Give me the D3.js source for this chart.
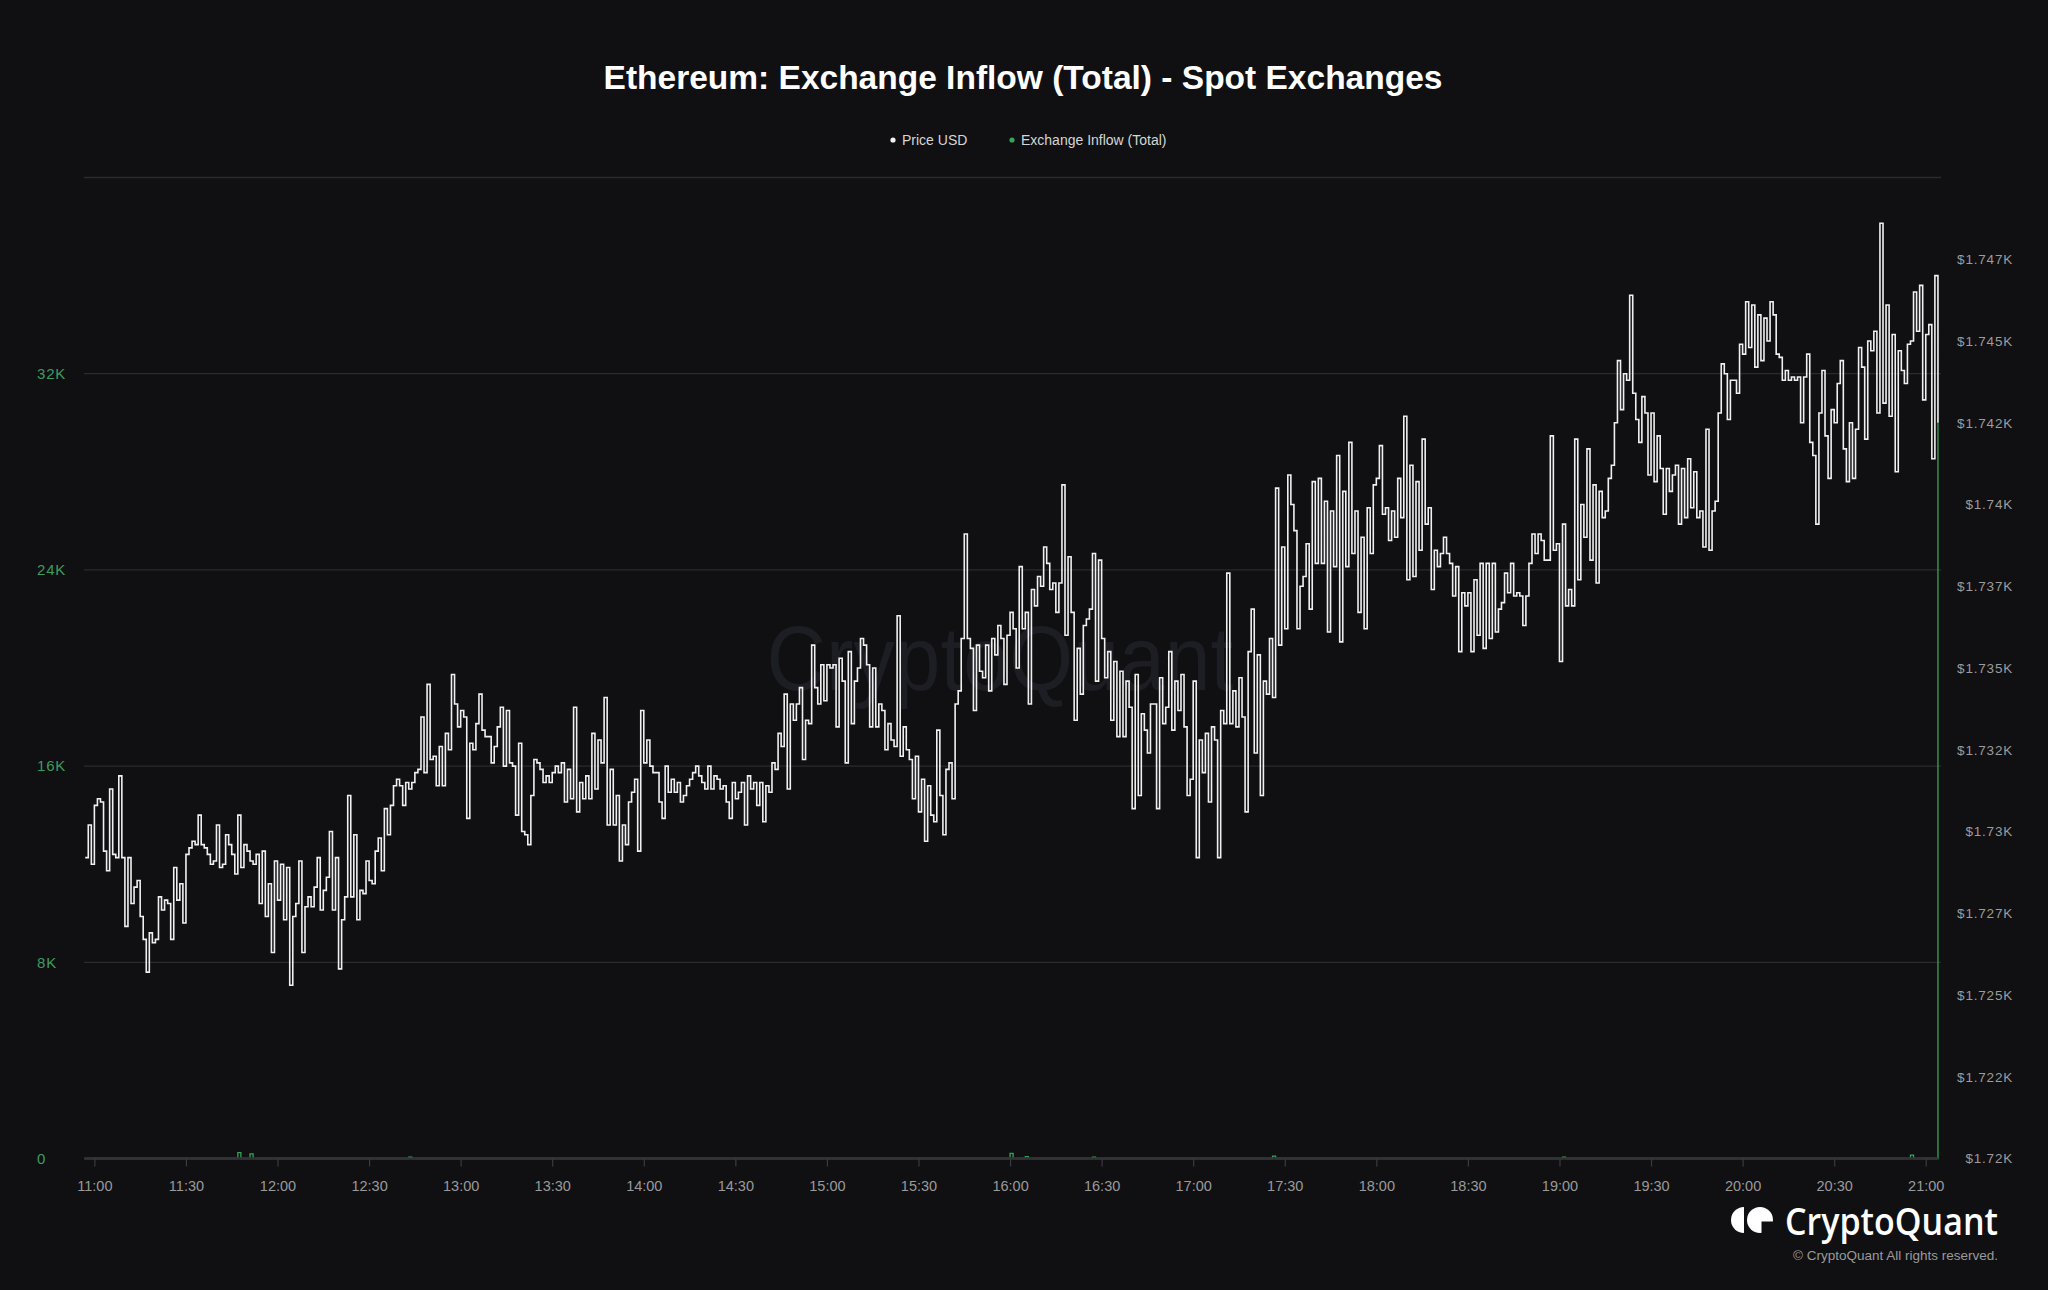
<!DOCTYPE html>
<html><head><meta charset="utf-8">
<script src="https://cdn.jsdelivr.net/npm/d3@7"></script>
<style>
html,body{margin:0;padding:0;background:#101013;}
svg{display:block}
</style></head>
<body>
<svg id="chart" width="2048" height="1290"></svg>
<script>
const chartTitle = "Ethereum: Exchange Inflow (Total) - Spot Exchanges";
const seriesNames = ["Price USD", "Exchange Inflow (Total)"];
const priceStart = "10:57"; // one value per minute
const priceUSD = [
1729.2,1730.2,1729.0,1730.8,1731.0,1730.9,1729.4,1728.8,1731.3,1729.3,
1729.2,1731.7,1729.2,1727.1,1729.2,1727.8,1728.3,1728.5,1727.4,
1726.7,1725.7,1726.9,1726.6,1726.7,1728.0,1727.6,1727.9,1727.8,
1726.7,1728.9,1727.9,1728.4,1727.2,1729.3,1729.5,1729.7,1729.6,1730.5,
1729.6,1729.5,1729.3,1729.0,1729.1,1730.2,1728.9,1729.0,1729.9,1729.6,
1729.3,1728.7,1730.5,1728.9,1729.6,1729.4,1729.1,1729.0,1729.3,1727.8,
1729.4,1727.4,1728.4,1726.3,1729.1,1727.9,1729.0,1727.3,1728.9,1725.3,
1727.4,1727.8,1729.1,1726.3,1727.7,1728.0,1727.7,1728.3,1729.2,1727.6,
1728.2,1728.6,1730.0,1727.6,1729.2,1725.8,1727.3,1728.0,1731.1,1728.0,
1729.9,1727.3,1728.2,1728.1,1729.1,1728.5,1728.4,1729.4,1729.8,1728.8,
1730.7,1729.9,1730.8,1731.4,1731.6,1731.4,1730.8,1731.5,1731.3,1731.5,
1731.8,1731.9,1733.5,1731.8,1734.5,1732.2,1732.3,1731.4,1732.6,1731.4,
1733.0,1732.5,1734.8,1733.9,1733.2,1733.7,1733.5,1730.4,1732.7,1732.5,
1733.3,1734.2,1733.1,1732.9,1732.9,1732.1,1732.6,1733.2,1733.8,1732.0,
1733.7,1732.1,1732.0,1730.5,1732.7,1730.0,1729.9,1729.6,1731.1,1732.2,
1732.1,1731.9,1731.5,1731.7,1731.5,1731.8,1732.0,1731.8,1732.1,1730.9,1731.9,
1731.0,1733.8,1730.6,1731.5,1731.0,1731.7,1731.0,1733.0,1731.3,1732.8,
1732.1,1734.1,1730.2,1731.9,1730.2,1731.1,1729.1,1730.2,1729.6,1730.9,
1731.2,1731.6,1729.4,1733.7,1732.1,1732.8,1732.0,1731.8,1731.8,1730.9,
1730.4,1732.0,1731.2,1731.6,1731.2,1731.5,1730.9,1731.1,1731.4,1731.6,
1731.8,1732.0,1731.7,1731.5,1731.3,1732.0,1731.3,1731.7,1731.6,1731.3,1731.4,
1730.9,1730.4,1731.5,1731.0,1731.2,1731.5,1730.2,1731.7,1731.3,1731.5,
1730.8,1731.5,1730.3,1731.4,1731.2,1732.1,1731.9,1733.0,1732.6,
1734.2,1731.3,1733.9,1733.4,1733.9,1734.4,1732.2,1733.4,1733.3,1735.7,1734.4,
1733.9,1735.1,1734.0,1735.1,1735.0,1735.1,1733.2,1735.3,1734.6,1732.1,
1735.5,1733.3,1734.6,1735.0,1735.9,1735.7,1735.1,1733.2,1735.0,1733.2,
1733.9,1733.7,1732.5,1733.3,1732.8,1732.6,1736.6,1732.3,1733.2,1732.5,
1732.2,1731.0,1732.3,1730.6,1731.6,1729.7,1731.4,1730.5,1730.3,1733.1,
1731.1,1729.9,1731.9,1732.1,1731.0,1733.9,1734.3,1735.9,1739.1,1735.9,
1735.6,1733.7,1735.7,1734.9,1734.7,1735.7,1734.3,1735.9,1735.4,1736.3,
1735.9,1734.5,1736.0,1736.7,1736.2,1735.0,1738.1,1736.2,1736.7,1733.9,
1737.4,1736.9,1737.8,1737.5,1738.7,1738.2,1737.4,1737.6,1736.7,1737.6,
1740.6,1736.0,1738.4,1736.7,1733.4,1735.6,1734.2,1736.3,1736.5,1736.8,
1738.5,1734.6,1738.3,1735.9,1734.7,1735.5,1733.4,1735.2,1732.9,1734.9,
1732.9,1734.6,1733.8,1730.7,1734.8,1731.1,1733.6,1733.1,1732.4,1733.9,
1733.9,1730.7,1734.7,1733.3,1733.8,1735.5,1733.1,1734.6,1733.7,1734.8,
1733.2,1731.1,1731.6,1734.6,1729.2,1732.8,1731.8,1733.0,1730.9,1733.2,
1732.8,1729.2,1733.7,1733.3,1737.9,1733.3,1734.3,1733.2,1734.7,1733.5,
1730.6,1735.5,1736.8,1732.4,1735.4,1731.1,1734.6,1734.2,1735.9,
1734.1,
1740.5,1735.7,1738.7,1736.2,1740.9,1740.0,1739.2,1736.2,1737.5,1737.8,
1738.8,1736.8,1740.7,1738.2,1740.8,1738.2,1740.1,1736.1,1739.8,1738.1,
1741.5,1735.8,1740.4,1738.1,1741.9,1738.5,1739.8,1736.7,1739.0,1736.2,
1739.9,1738.5,1740.6,1740.8,1741.8,1739.7,1739.9,1738.9,1739.8,1739.0,
1740.8,1739.6,1742.7,1737.7,1741.2,1737.8,1740.7,1738.6,1742.0,1739.4,
1739.9,1737.4,1738.6,1738.1,1738.5,1739.0,1738.5,1738.2,1737.2,1738.1,
1735.5,1737.3,1736.9,1737.3,1735.5,1737.7,1736.0,1738.2,1735.6,1738.2,
1735.9,1738.2,1736.1,1736.8,1737.0,1737.9,1737.3,1738.2,1737.2,1737.3,
1737.2,1736.3,1737.2,1738.2,1739.1,1738.5,1739.1,1738.9,1738.3,1738.3,
1742.1,1738.6,1738.8,1735.2,1739.4,1736.9,1737.4,1736.9,1742.0,1737.7,
1740.0,1739.0,1741.7,1738.3,1740.6,1737.6,1740.4,1739.6,1739.8,1740.8,
1741.2,1742.5,1744.4,1742.9,1744.0,1743.8,1746.4,1743.4,1742.6,1741.9,
1743.3,1742.8,1740.9,1742.8,1740.7,1742.1,1741.1,1739.7,1741.1,1740.4,
1740.9,1741.2,1739.4,1741.1,1739.6,1741.4,1739.9,1741.0,1739.6,1739.8,
1738.7,1742.3,1738.6,1739.8,1740.1,1742.8,
1744.3,1744.0,1742.6,1743.8,1743.8,1743.4,1744.9,1744.6,1746.2,1744.8,
1746.1,1744.2,1745.8,1744.4,1745.7,1745.0,1746.2,1745.8,1744.6,
1744.5,1743.8,1744.1,1743.8,1743.9,1743.8,1743.9,1742.5,1743.9,1744.6,
1741.9,1741.5,1739.4,1742.8,1744.1,1742.1,1740.8,1742.9,1742.5,1743.7,
1744.4,1741.7,1740.7,1742.5,1740.8,1742.3,1744.8,1744.2,1742.0,1745.0,
1744.7,1745.3,1742.8,1748.6,1743.1,1746.1,1742.7,1745.2,1741.0,1744.7,
1744.1,1743.7,1744.9,1745.0,1746.5,1745.3,1746.7,1743.2,1745.2,1745.5,
1741.4,1747.0,1742.5
];
const inflowTimes  = ["10:57","11:47","11:48","11:51","11:52","12:43","12:44","16:00","16:01","16:05","16:06","16:27","16:28","17:26","17:27","19:01","19:02","20:55","20:56","21:03","21:04"];
const inflowValues = [0,      240,    0,      190,    0,      50,     0,      210,    0,      80,     0,      60,     0,      100,    0,      50,     0,      140,    0,      0,      30000];
const xTickLabels = ["11:00","11:30","12:00","12:30","13:00","13:30","14:00","14:30","15:00","15:30","16:00","16:30","17:00","17:30","18:00","18:30","19:00","19:30","20:00","20:30","21:00"];
const leftTickValues = [0, 8000, 16000, 24000, 32000];
const leftTickLabels = ["0", "8K", "16K", "24K", "32K"];
const gridValues = [8000, 16000, 24000, 32000, 40000];
const rightTickValues = [1720, 1722.5, 1725, 1727.5, 1730, 1732.5, 1735, 1737.5, 1740, 1742.5, 1745, 1747.5];
const rightTickLabels = ["$1.72K","$1.722K","$1.725K","$1.727K","$1.73K","$1.732K","$1.735K","$1.737K","$1.74K","$1.742K","$1.745K","$1.747K"];

const BG = "#101013", GREEN = "#34a457", GREEN_TXT = "#3f9a60";
const FONT = "'Liberation Sans', Arial, Helvetica, sans-serif";
const svg = d3.select("#chart");
const W = 2048, H = 1290;
const plot = {left: 84, right: 1941, top: 177.5, bottom: 1158.5};

svg.append("rect").attr("width", W).attr("height", H).attr("fill", BG);

const parse = d3.timeParse("%H:%M");
const t0 = parse(priceStart);
const priceData = priceUSD.map((v, i) => ({t: d3.timeMinute.offset(t0, i), v}));
const inflowData = inflowTimes.map((s, i) => ({t: parse(s), v: inflowValues[i]}));
const tLast = priceData[priceData.length - 1].t;

const x = d3.scaleTime()
  .domain([d3.timeSecond.offset(t0, -24), d3.timeMinute.offset(tLast, 1)])
  .range([plot.left, plot.right]);
const yIn = d3.scaleLinear().domain([0, 40000]).range([plot.bottom, plot.top]);
const yPx = d3.scaleLinear().domain([1720, 1750]).range([plot.bottom, plot.top]);

// watermark
svg.append("text").attr("x", 1000).attr("y", 690).attr("text-anchor", "middle")
  .attr("font-family", FONT).attr("font-size", 90)
  .attr("textLength", 467).attr("lengthAdjust", "spacingAndGlyphs")
  .attr("fill", "#1d1d24").text("CryptoQuant");

// title
svg.append("text").attr("x", 1023).attr("y", 89).attr("text-anchor", "middle")
  .attr("font-family", FONT).attr("font-weight", 700).attr("font-size", 33.5)
  .attr("fill", "#ffffff").text(chartTitle);

// legend
const legend = svg.append("g").attr("font-family", FONT).attr("font-size", 14).attr("fill", "#d6d6d6");
[[893, "#f2f2f2", 0, 902], [1012, GREEN, 1, 1021]].forEach(([cx, col, i, tx]) => {
  legend.append("circle").attr("cx", cx).attr("cy", 140).attr("r", 2.6).attr("fill", col);
  legend.append("text").attr("x", tx).attr("y", 145).text(seriesNames[i]);
});

// grid
svg.append("g").selectAll("line").data(gridValues).join("line")
  .attr("x1", plot.left).attr("x2", plot.right)
  .attr("y1", d => yIn(d)).attr("y2", d => yIn(d))
  .attr("stroke", "#2a2a2f").attr("stroke-width", 1.3);

// left axis (inflow)
const gl = svg.append("g").attr("transform", "translate(37,0)")
  .call(d3.axisRight(yIn).tickValues(leftTickValues).tickSize(0).tickPadding(0)
    .tickFormat((d, i) => leftTickLabels[i]));
gl.select(".domain").remove();
gl.selectAll("text").attr("font-family", FONT).attr("font-size", 15).attr("letter-spacing", 0.8)
  .attr("fill", GREEN_TXT).attr("text-anchor", "start");

// right axis (price)
const gr = svg.append("g").attr("transform", "translate(2013,0)")
  .call(d3.axisLeft(yPx).tickValues(rightTickValues).tickSize(0).tickPadding(0)
    .tickFormat((d, i) => rightTickLabels[i]));
gr.select(".domain").remove();
gr.selectAll("text").attr("font-family", FONT).attr("font-size", 13.5).attr("letter-spacing", 0.8)
  .attr("fill", "#9c9c9c");

// inflow line
svg.append("path").datum(inflowData)
  .attr("d", d3.line().x(d => x(d.t)).y(d => yIn(d.v)).curve(d3.curveStepAfter))
  .attr("fill", "none").attr("stroke", GREEN).attr("stroke-width", 1.3);

// x axis (drawn over the zero-level inflow line)
const gx = svg.append("g").attr("transform", `translate(0,${plot.bottom})`)
  .call(d3.axisBottom(x).tickValues(xTickLabels.map(parse)).tickSize(8).tickPadding(14)
    .tickFormat((d, i) => xTickLabels[i]));
gx.select(".domain").attr("d", `M${plot.left},0H${plot.right - 3}`).attr("stroke", "#323237").attr("stroke-width", 2.4);
gx.selectAll(".tick line").attr("stroke", "#3a3a40").attr("stroke-width", 1.2);
gx.selectAll("text").attr("font-family", FONT).attr("font-size", 14.5).attr("fill", "#9a9a9a");

// price line
svg.append("path").datum(priceData)
  .attr("d", d3.line().x(d => x(d.t)).y(d => yPx(d.v)).curve(d3.curveStepAfter))
  .attr("fill", "none").attr("stroke", "#f0f0f0").attr("stroke-width", 1.6)
  .attr("stroke-linejoin", "miter");

// logo
const logo = svg.append("g");
logo.append("path").attr("d", "M1744,1207 A13,13 0 0,0 1744,1233 Z").attr("fill", "#fff");
logo.append("circle").attr("cx", 1760).attr("cy", 1220).attr("r", 13).attr("fill", "#fff");
logo.append("rect").attr("x", 1761.5).attr("y", 1221.5).attr("width", 13).attr("height", 13).attr("fill", BG);
logo.append("text").attr("x", 1785).attr("y", 1235).attr("font-family", "'Open Sans', " + FONT)
  .attr("font-size", 37).attr("font-weight", 600)
  .attr("textLength", 213).attr("lengthAdjust", "spacingAndGlyphs")
  .attr("fill", "#ffffff").text("CryptoQuant");
logo.append("text").attr("x", 1998).attr("y", 1260).attr("text-anchor", "end")
  .attr("font-family", FONT).attr("font-size", 13.5).attr("fill", "#9a9a9a")
  .text("© CryptoQuant All rights reserved.");
</script>
</body></html>
